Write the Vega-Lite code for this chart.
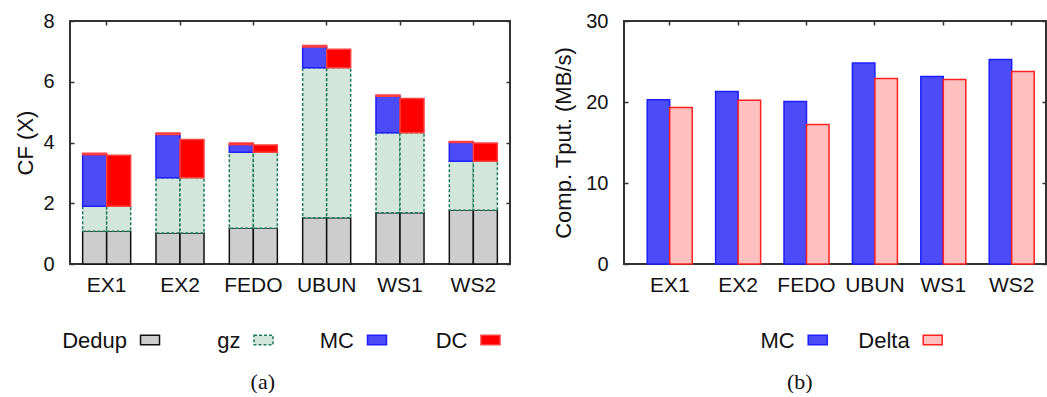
{
  "$schema": "https://vega.github.io/schema/vega-lite/v6.json",
  "padding": {"left": 13, "top": 10, "right": 0, "bottom": 0},
  "background": "white",
  "config": {
    "font": "Liberation Sans",
    "view": {"stroke": "#333333", "strokeWidth": 2},
    "axis": {
      "grid": false, "domain": false, "ticks": true,
      "tickColor": "#333333", "tickWidth": 1.5,
      "labelColor": "#111111", "titleColor": "#111111",
      "labelFont": "Liberation Sans", "titleFont": "Liberation Sans",
      "labelFontSize": 20, "titleFontSize": 22, "titleFontWeight": "normal"
    },
    "title": {"font": "Liberation Serif", "fontSize": 22, "fontWeight": "normal", "color": "#111111"}
  },
  "datasets": {
    "cf": [
      {"ds": "EX1", "bar": "L", "comp": "Dedup", "rank": 1, "v": 1.08},
      {"ds": "EX1", "bar": "L", "comp": "gz", "rank": 2, "v": 0.82},
      {"ds": "EX1", "bar": "L", "comp": "MC", "rank": 3, "v": 1.70},
      {"ds": "EX1", "bar": "L", "comp": "DC", "rank": 4, "v": 0.05},
      {"ds": "EX1", "bar": "R", "comp": "Dedup", "rank": 1, "v": 1.08},
      {"ds": "EX1", "bar": "R", "comp": "gz", "rank": 2, "v": 0.82},
      {"ds": "EX1", "bar": "R", "comp": "DC", "rank": 4, "v": 1.68},
      {"ds": "EX2", "bar": "L", "comp": "Dedup", "rank": 1, "v": 1.02},
      {"ds": "EX2", "bar": "L", "comp": "gz", "rank": 2, "v": 1.82},
      {"ds": "EX2", "bar": "L", "comp": "MC", "rank": 3, "v": 1.42},
      {"ds": "EX2", "bar": "L", "comp": "DC", "rank": 4, "v": 0.05},
      {"ds": "EX2", "bar": "R", "comp": "Dedup", "rank": 1, "v": 1.02},
      {"ds": "EX2", "bar": "R", "comp": "gz", "rank": 2, "v": 1.82},
      {"ds": "EX2", "bar": "R", "comp": "DC", "rank": 4, "v": 1.26},
      {"ds": "FEDO", "bar": "L", "comp": "Dedup", "rank": 1, "v": 1.18},
      {"ds": "FEDO", "bar": "L", "comp": "gz", "rank": 2, "v": 2.50},
      {"ds": "FEDO", "bar": "L", "comp": "MC", "rank": 3, "v": 0.25},
      {"ds": "FEDO", "bar": "L", "comp": "DC", "rank": 4, "v": 0.05},
      {"ds": "FEDO", "bar": "R", "comp": "Dedup", "rank": 1, "v": 1.18},
      {"ds": "FEDO", "bar": "R", "comp": "gz", "rank": 2, "v": 2.50},
      {"ds": "FEDO", "bar": "R", "comp": "DC", "rank": 4, "v": 0.24},
      {"ds": "UBUN", "bar": "L", "comp": "Dedup", "rank": 1, "v": 1.52},
      {"ds": "UBUN", "bar": "L", "comp": "gz", "rank": 2, "v": 4.94},
      {"ds": "UBUN", "bar": "L", "comp": "MC", "rank": 3, "v": 0.68},
      {"ds": "UBUN", "bar": "L", "comp": "DC", "rank": 4, "v": 0.05},
      {"ds": "UBUN", "bar": "R", "comp": "Dedup", "rank": 1, "v": 1.52},
      {"ds": "UBUN", "bar": "R", "comp": "gz", "rank": 2, "v": 4.94},
      {"ds": "UBUN", "bar": "R", "comp": "DC", "rank": 4, "v": 0.61},
      {"ds": "WS1", "bar": "L", "comp": "Dedup", "rank": 1, "v": 1.69},
      {"ds": "WS1", "bar": "L", "comp": "gz", "rank": 2, "v": 2.63},
      {"ds": "WS1", "bar": "L", "comp": "MC", "rank": 3, "v": 1.20},
      {"ds": "WS1", "bar": "L", "comp": "DC", "rank": 4, "v": 0.04},
      {"ds": "WS1", "bar": "R", "comp": "Dedup", "rank": 1, "v": 1.69},
      {"ds": "WS1", "bar": "R", "comp": "gz", "rank": 2, "v": 2.63},
      {"ds": "WS1", "bar": "R", "comp": "DC", "rank": 4, "v": 1.13},
      {"ds": "WS2", "bar": "L", "comp": "Dedup", "rank": 1, "v": 1.77},
      {"ds": "WS2", "bar": "L", "comp": "gz", "rank": 2, "v": 1.61},
      {"ds": "WS2", "bar": "L", "comp": "MC", "rank": 3, "v": 0.62},
      {"ds": "WS2", "bar": "L", "comp": "DC", "rank": 4, "v": 0.03},
      {"ds": "WS2", "bar": "R", "comp": "Dedup", "rank": 1, "v": 1.77},
      {"ds": "WS2", "bar": "R", "comp": "gz", "rank": 2, "v": 1.61},
      {"ds": "WS2", "bar": "R", "comp": "DC", "rank": 4, "v": 0.60}
    ],
    "tp": [
      {"ds": "EX1", "comp": "MC", "v": 20.27},
      {"ds": "EX1", "comp": "Delta", "v": 19.32},
      {"ds": "EX2", "comp": "MC", "v": 21.30},
      {"ds": "EX2", "comp": "Delta", "v": 20.23},
      {"ds": "FEDO", "comp": "MC", "v": 20.07},
      {"ds": "FEDO", "comp": "Delta", "v": 17.22},
      {"ds": "UBUN", "comp": "MC", "v": 24.80},
      {"ds": "UBUN", "comp": "Delta", "v": 22.90},
      {"ds": "WS1", "comp": "MC", "v": 23.16},
      {"ds": "WS1", "comp": "Delta", "v": 22.79},
      {"ds": "WS2", "comp": "MC", "v": 25.26},
      {"ds": "WS2", "comp": "Delta", "v": 23.77}
    ],
    "legA": [{"comp": "Dedup"}, {"comp": "gz"}, {"comp": "MC"}, {"comp": "DC"}],
    "legB": [{"comp": "MC"}, {"comp": "Delta"}]
  },
  "resolve": {"scale": {"color": "shared", "stroke": "shared", "strokeDash": "shared", "xOffset": "independent"}},
  "spacing": 39,
  "hconcat": [
    {
      "title": {"text": "(a)", "orient": "bottom", "frame": "bounds", "anchor": "middle", "offset": 20},
      "spacing": 32,
      "vconcat": [
        {
          "width": 440, "height": 243,
          "data": {"name": "cf"},
          "layer": [
            {
              "mark": {"type": "bar", "strokeWidth": 1.5},
              "encoding": {
                "x": {"field": "ds", "type": "nominal", "sort": null,
                      "scale": {"paddingInner": 0.345, "paddingOuter": 0.1725},
                      "axis": {"title": null, "labelAngle": 0, "labelFontSize": 21, "tickSize": -4, "labelPadding": 14}},
                "xOffset": {"field": "bar", "type": "nominal", "sort": null},
                "y": {"field": "v", "type": "quantitative", "stack": "zero",
                      "scale": {"domain": [0, 8]},
                      "axis": {"title": "CF (X)", "values": [0, 2, 4, 6, 8], "tickSize": -4, "labelPadding": 20, "titlePadding": 5}},
                "color": {"field": "comp", "type": "nominal",
                          "scale": {"domain": ["Dedup", "gz", "MC", "DC", "Delta"], "range": ["#cdcdcd", "#d2e6dc", "#4b4bf7", "#ff0000", "#ffc0c0"]},
                          "legend": null},
                "stroke": {"field": "comp", "type": "nominal",
                           "scale": {"domain": ["Dedup", "gz", "MC", "DC", "Delta"], "range": ["#111111", "#1f7a5a", "#1f1fff", "#ff4040", "#ff2020"]},
                           "legend": null},
                "strokeDash": {"field": "comp", "type": "nominal",
                               "scale": {"domain": ["Dedup", "gz", "MC", "DC", "Delta"], "range": [[10, 0], [3, 2], [10, 0], [10, 0], [10, 0]]},
                               "legend": null},
                "order": {"field": "rank", "type": "quantitative", "sort": "ascending"}
              }
            },
            {
              "mark": {"type": "bar", "opacity": 0},
              "encoding": {
                "x": {"field": "ds", "type": "nominal", "sort": null,
                      "axis": {"orient": "top", "title": null, "labels": false, "tickSize": -4}},
                "y": {"field": "v", "type": "quantitative", "stack": null,
                      "axis": {"orient": "right", "title": null, "labels": false, "values": [0, 2, 4, 6, 8], "tickSize": -4}}
              }
            }
          ],
          "resolve": {"axis": {"x": "independent", "y": "independent"}}
        },
        {
          "width": 440, "height": 24,
          "view": {"stroke": null},
          "data": {"name": "legA"},
          "encoding": {
            "x": {"field": "comp", "type": "nominal", "sort": null,
                  "scale": {"type": "point", "padding": 0.4385, "align": 0.804}, "axis": null}
          },
          "layer": [
            {
              "mark": {"type": "point", "shape": "M-1,-0.5H1V0.5H-1Z", "filled": true, "size": 361, "strokeWidth": 1.5, "opacity": 1},
              "encoding": {
                "color": {"field": "comp", "type": "nominal", "legend": null},
                "stroke": {"field": "comp", "type": "nominal", "legend": null},
                "strokeDash": {"field": "comp", "type": "nominal", "legend": null}
              }
            },
            {
              "mark": {"type": "text", "align": "right", "baseline": "middle", "dx": -23, "dy": 1, "fontSize": 22, "color": "#111111"},
              "encoding": {"text": {"field": "comp"}}
            }
          ]
        }
      ]
    },
    {
      "title": {"text": "(b)", "orient": "bottom", "frame": "bounds", "anchor": "middle", "offset": 20},
      "spacing": 32,
      "vconcat": [
        {
          "width": 422, "height": 243,
          "data": {"name": "tp"},
          "layer": [
            {
              "mark": {"type": "bar", "strokeWidth": 1.5},
              "encoding": {
                "x": {"field": "ds", "type": "nominal", "sort": null,
                      "scale": {"paddingInner": 0.342, "paddingOuter": 0.256, "align": 0.663},
                      "axis": {"title": null, "labelAngle": 0, "labelFontSize": 21, "tickSize": -4, "labelPadding": 14}},
                "xOffset": {"field": "comp", "type": "nominal", "sort": null},
                "y": {"field": "v", "type": "quantitative", "stack": null,
                      "scale": {"domain": [0, 30]},
                      "axis": {"title": "Comp. Tput. (MB/s)", "values": [0, 10, 20, 30], "tickSize": -4, "labelPadding": 20, "titlePadding": 10}},
                "color": {"field": "comp", "type": "nominal", "legend": null},
                "stroke": {"field": "comp", "type": "nominal", "legend": null}
              }
            },
            {
              "mark": {"type": "bar", "opacity": 0},
              "encoding": {
                "x": {"field": "ds", "type": "nominal", "sort": null,
                      "axis": {"orient": "top", "title": null, "labels": false, "tickSize": -4}},
                "y": {"field": "v", "type": "quantitative", "stack": null,
                      "axis": {"orient": "right", "title": null, "labels": false, "values": [0, 10, 20, 30], "tickSize": -4}}
              }
            }
          ],
          "resolve": {"axis": {"x": "independent", "y": "independent"}}
        },
        {
          "width": 422, "height": 24,
          "view": {"stroke": null},
          "data": {"name": "legB"},
          "encoding": {
            "x": {"field": "comp", "type": "nominal",
                  "scale": {"type": "point", "domain": ["_", "MC", "Delta"], "padding": 0.835, "align": 0.41}, "axis": null}
          },
          "layer": [
            {
              "mark": {"type": "point", "shape": "M-1,-0.5H1V0.5H-1Z", "filled": true, "size": 361, "strokeWidth": 1.5, "opacity": 1},
              "encoding": {
                "color": {"field": "comp", "type": "nominal", "legend": null},
                "stroke": {"field": "comp", "type": "nominal", "legend": null}
              }
            },
            {
              "mark": {"type": "text", "align": "right", "baseline": "middle", "dx": -23, "dy": 1, "fontSize": 22, "color": "#111111"},
              "encoding": {"text": {"field": "comp"}}
            }
          ]
        }
      ]
    }
  ]
}
